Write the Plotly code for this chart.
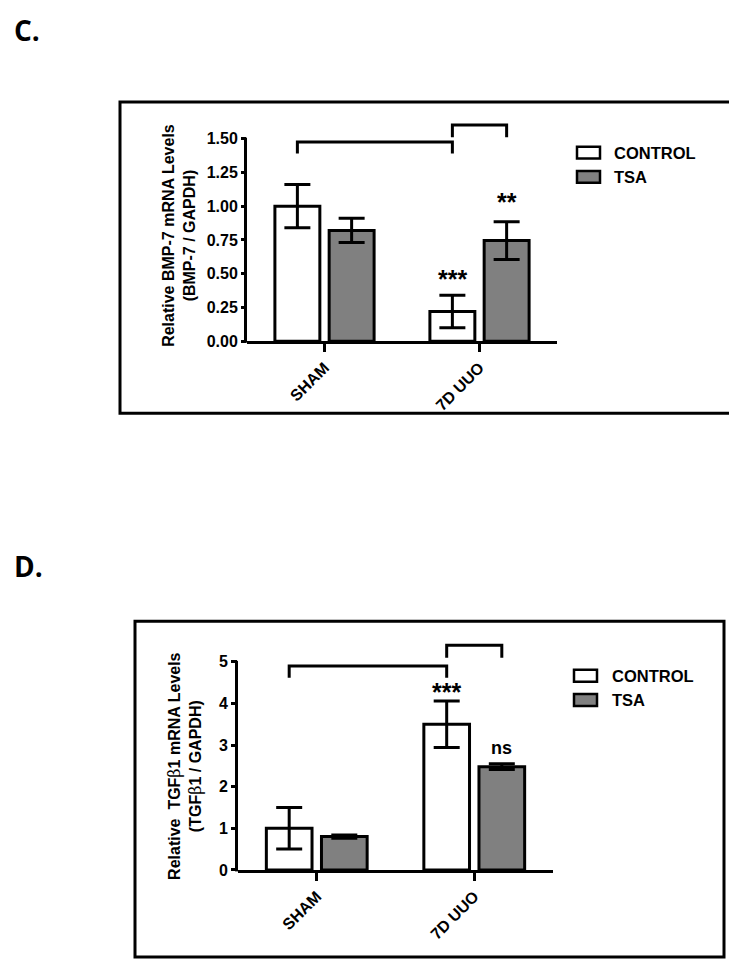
import plotly.graph_objects as go

W, H = 737, 967

# ---------------- data ----------------
categories = ["SHAM", "7D UUO"]
series_names = ["CONTROL", "TSA"]

# Panel C: BMP-7
bmp7_control = [1.00, 0.22]
bmp7_control_err = [0.16, 0.12]
bmp7_tsa = [0.82, 0.745]
bmp7_tsa_err = [0.09, 0.14]
bmp7_ticks = [0, 0.25, 0.5, 0.75, 1.0, 1.25, 1.5]
bmp7_sig_labels = ["***", "**"]
bmp7_sig_y = [0.46, 1.03]
bmp7_bracket_big = [1.475, 1.39]    # bar top, leg end
bmp7_bracket_small = [1.60, 1.51]

# Panel D: TGFb1
tgfb1_control = [1.00, 3.50]
tgfb1_control_err = [0.50, 0.56]
tgfb1_tsa = [0.80, 2.48]
tgfb1_tsa_err = [0.04, 0.07]
tgfb1_ticks = [0, 1, 2, 3, 4, 5]
tgfb1_sig_labels = ["***", "ns"]
tgfb1_sig_y = [4.28, 2.92]
tgfb1_bracket_big = [4.90, 4.62]
tgfb1_bracket_small = [5.40, 5.10]

# ---------------- layout geometry (pixels) ----------------
FONT = "Liberation Sans"
BAR_W = 0.29
OFF_CTRL, OFF_TSA = -0.32, 0.03
C_CTRL = OFF_CTRL + BAR_W / 2
C_TSA = OFF_TSA + BAR_W / 2
GRAY = "#808080"
BETA = '<span style="font-weight:normal;font-family:\'DejaVu Serif\'">β</span>'


def px(x):
    return x / W


def py(y):
    return 1 - y / H


panels = [
    dict(xa="x", ya="y", xl=239, xr=549, y0=336.3, ppu=136.3, top=1.65, axtop=1.5,
         ctrl=bmp7_control, ctrl_err=bmp7_control_err, tsa=bmp7_tsa, tsa_err=bmp7_tsa_err,
         ticks=bmp7_ticks, fmt=".2f", ticklen=5, sig=bmp7_sig_labels, sig_y=bmp7_sig_y,
         big=bmp7_bracket_big, small=bmp7_bracket_small,
         frame=(112, 95, 728, 409), leg=(569, 140, 604), title_xy=(171, 230),
         title="Relative BMP-7 mRNA Levels<br>(BMP-7 / GAPDH)",
         label="C.", label_y=22),
    dict(xa="x2", ya="y2", xl=230, xr=545, y0=870, ppu=42, top=5.55, axtop=5,
         ctrl=tgfb1_control, ctrl_err=tgfb1_control_err, tsa=tgfb1_tsa, tsa_err=tgfb1_tsa_err,
         ticks=tgfb1_ticks, fmt="d", ticklen=6, sig=tgfb1_sig_labels, sig_y=tgfb1_sig_y,
         big=tgfb1_bracket_big, small=tgfb1_bracket_small,
         frame=(127, 619, 716, 958), leg=(566, 668, 602), title_xy=(177, 765),
         title=f"Relative  TGF{BETA}1 mRNA Levels<br>(TGF{BETA}1 / GAPDH)",
         label="D.", label_y=563),
]

fig = go.Figure()
shapes = []
annotations = []
layout_axes = {}

for i, p in enumerate(panels):
    xa, ya = p["xa"], p["ya"]
    for name, vals, errs, off, col in [
        ("CONTROL", p["ctrl"], p["ctrl_err"], OFF_CTRL, "white"),
        ("TSA", p["tsa"], p["tsa_err"], OFF_TSA, GRAY),
    ]:
        fig.add_trace(go.Bar(
            x=categories, y=vals, width=BAR_W, offset=off, name=name,
            xaxis=xa, yaxis=ya, showlegend=False,
            marker=dict(color=col, line=dict(color="black", width=3)),
            error_y=dict(type="data", array=errs, visible=True, color="black",
                         thickness=3, width=13),
        ))

    top_px = p["y0"] - p["top"] * p["ppu"]
    suffix = "" if i == 0 else "2"
    layout_axes["xaxis" + suffix] = dict(
        domain=[px(p["xl"]), px(p["xr"])], anchor=ya, type="category",
        range=[-0.5, 1.5], showline=True, linewidth=3, linecolor="black",
        ticks="outside", ticklen=8, tickwidth=3, tickcolor="black",
        tickangle=-45, showgrid=False, zeroline=False,
        tickfont=dict(family=FONT, size=16, color="black", weight="bold"),
    )
    layout_axes["yaxis" + suffix] = dict(
        domain=[py(p["y0"]), py(top_px)], anchor=xa,
        range=[0, p["top"]], showline=False, tickvals=p["ticks"], tickformat=p["fmt"],
        ticks="outside", ticklen=p["ticklen"], tickwidth=2.5, tickcolor="black",
        showgrid=False, zeroline=False,
        tickfont=dict(family=FONT, size=16, color="black", weight="bold"),
    )
    # y axis line (only up to the top tick)
    axtop_px = p["y0"] - p["axtop"] * p["ppu"]
    shapes.append(dict(type="line", xref="paper", yref="paper",
                       x0=px(p["xl"] - 1.5), x1=px(p["xl"] - 1.5),
                       y0=py(p["y0"] + 1.5), y1=py(axtop_px - 1),
                       line=dict(color="black", width=3)))
    # significance brackets
    for (ytop, yleg), (xa0, xa1) in [
        (p["big"], (0 + C_CTRL, 1 + C_CTRL)),
        (p["small"], (1 + C_CTRL, 1 + C_TSA)),
    ]:
        path = f"M {xa0},{yleg} L {xa0},{ytop} L {xa1},{ytop} L {xa1},{yleg}"
        shapes.append(dict(type="path", xref=xa, yref=ya, path=path,
                           line=dict(color="black", width=3)))
    # significance labels
    for lab, yv, xv in zip(p["sig"], p["sig_y"], [1 + C_CTRL, 1 + C_TSA]):
        size = 25 if "*" in lab else 18
        annotations.append(dict(xref=xa, yref=ya, x=xv, y=yv, text=f"<b>{lab}</b>",
                                showarrow=False, xanchor="center", yanchor="middle",
                                font=dict(family=FONT, size=size, color="black")))
    # outer frame
    fx0, fy0, fx1, fy1 = p["frame"]
    shapes.append(dict(type="rect", xref="paper", yref="paper",
                       x0=px(fx0), x1=px(fx1), y0=py(fy0), y1=py(fy1),
                       line=dict(color="black", width=3)))
    # legend
    lx, ly, tx = p["leg"]
    for k, (name, col) in enumerate([("CONTROL", "white"), ("TSA", GRAY)]):
        yy = ly + k * 24.5
        shapes.append(dict(type="rect", xref="paper", yref="paper",
                           x0=px(lx), x1=px(lx + 23), y0=py(yy), y1=py(yy + 12),
                           fillcolor=col, line=dict(color="black", width=2.5)))
        annotations.append(dict(xref="paper", yref="paper", x=px(tx), y=py(yy + 6),
                                text=f"<b>{name}</b>", showarrow=False,
                                xanchor="left", yanchor="middle",
                                font=dict(family=FONT, size=16.5, color="black")))
    # y title
    tx_, ty_ = p["title_xy"]
    annotations.append(dict(xref="paper", yref="paper", x=px(tx_), y=py(ty_),
                            text=f"<b>{p['title']}</b>", showarrow=False, textangle=-90,
                            xanchor="center", yanchor="middle",
                            font=dict(family=FONT, size=16, color="black")))
    # panel label
    annotations.append(dict(xref="paper", yref="paper", x=px(4), y=py(p["label_y"]),
                            text=f"<b>{p['label']}</b>", showarrow=False,
                            xanchor="left", yanchor="middle",
                            font=dict(family="Open Sans", size=28, color="black")))

fig.update_layout(
    width=W, height=H, margin=dict(l=0, r=0, t=0, b=0),
    paper_bgcolor="white", plot_bgcolor="white",
    barmode="overlay", showlegend=False,
    shapes=shapes, annotations=annotations,
    **layout_axes,
)

fig.write_html("out.html")
